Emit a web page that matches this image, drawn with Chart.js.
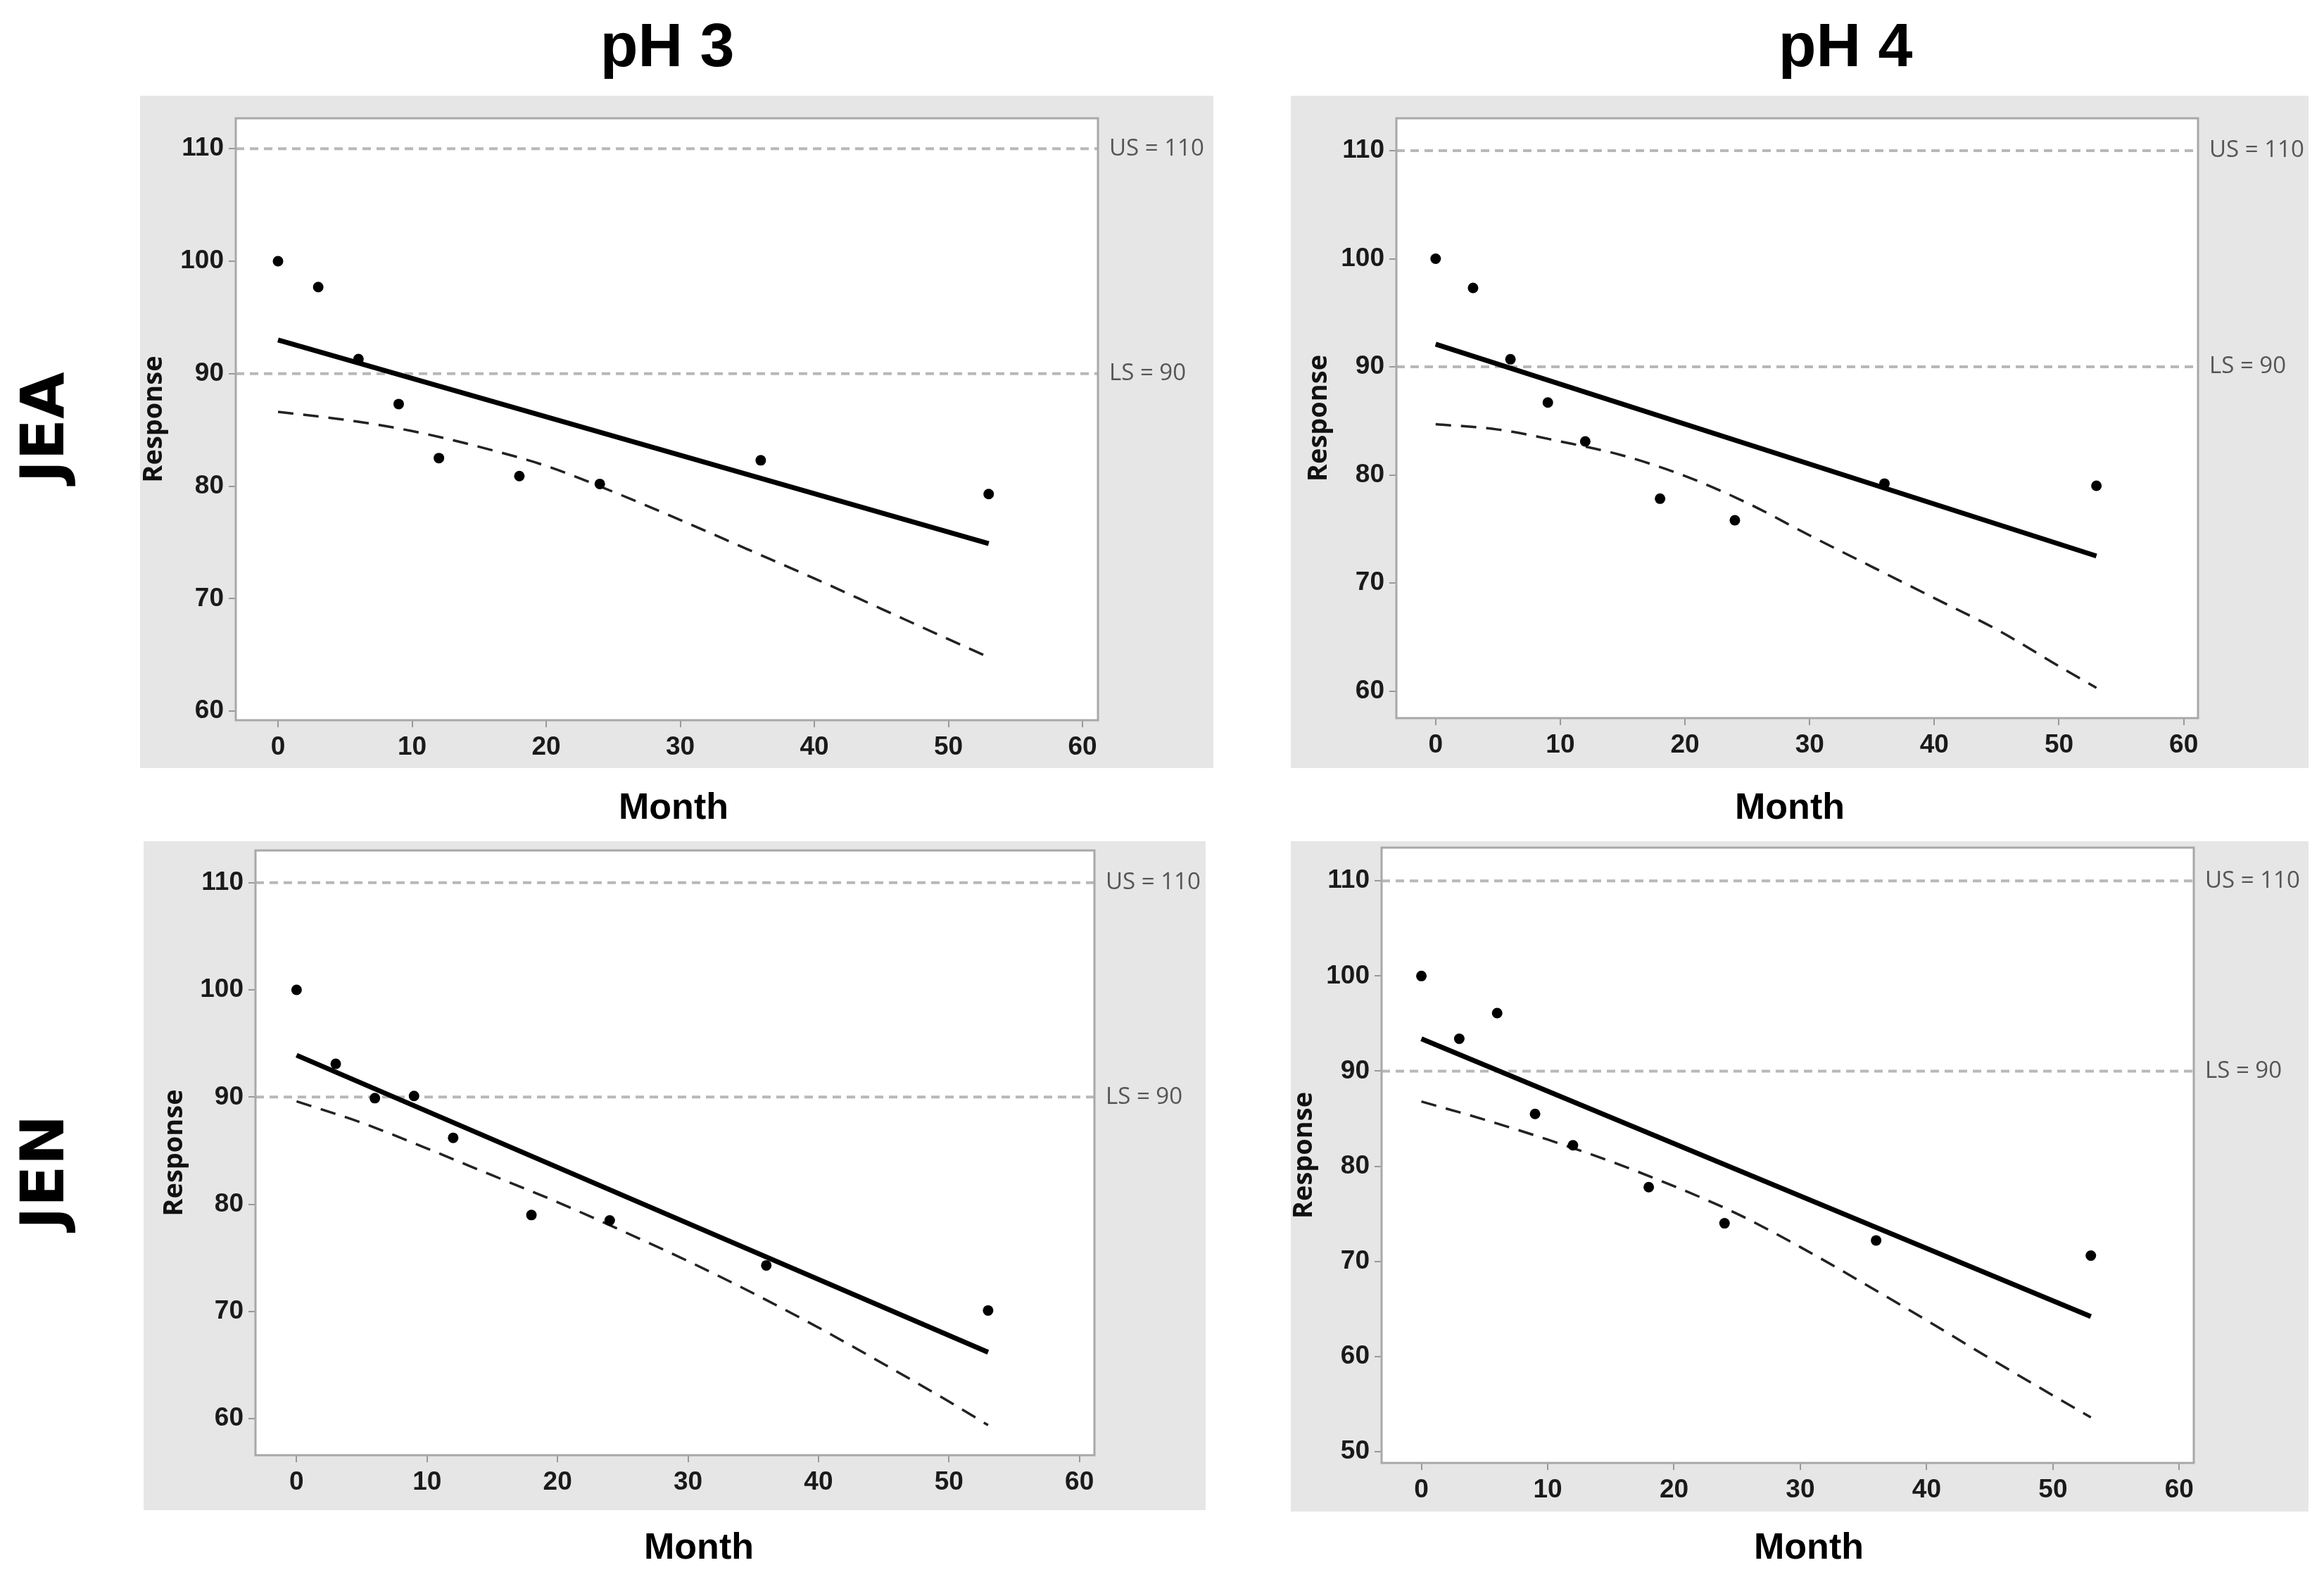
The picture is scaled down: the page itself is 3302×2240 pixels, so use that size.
<!DOCTYPE html>
<html>
<head>
<meta charset="utf-8">
<script src="https://cdn.jsdelivr.net/npm/chart.js@4.4.0/dist/chart.umd.min.js"></script>
<style>
html, body { margin: 0; padding: 0; background: #fff; width: 3302px; height: 2240px; overflow: hidden; }
body { position: relative; font-family: "Liberation Sans", Arial, sans-serif; }
.panel { position: absolute; background: #e6e6e6; }
.plot { position: absolute; }
.lbl { position: absolute; transform: translate(-50%, -50%); font-weight: bold; line-height: 1; white-space: nowrap; color: #000; }
.row { font-family: "DejaVu Sans", sans-serif; font-size: 86px; transform: translate(-50%, -50%) rotate(-90deg); }
.col { font-size: 88px; }
.month { font-size: 52px; }
</style>
</head>
<body>

<div class="lbl col" style="left:948px; top:64px;">pH 3</div>
<div class="lbl col" style="left:2622px; top:64px;">pH 4</div>
<div class="lbl row" style="left:60px; top:607px;">JEA</div>
<div class="lbl row" style="left:60px; top:1665px;">JEN</div>
<div class="lbl month" style="left:957px; top:1145px;">Month</div>
<div class="lbl month" style="left:2543px; top:1145px;">Month</div>
<div class="lbl month" style="left:993px; top:2196px;">Month</div>
<div class="lbl month" style="left:2570px; top:2196px;">Month</div>

<script>
// sampling months of the stability study
var months = [0, 3, 6, 9, 12, 18, 24, 36, 53];
var fitMonths = [0, 53];
var boundMonths = [0, 5, 10, 15, 20, 25, 30, 35, 40, 45, 50, 53];

// JEA pH 3
var jeaPh3Response = [100, 97.7, 91.3, 87.3, 82.5, 80.9, 80.2, 82.3, 79.3];
var jeaPh3Fit = [93.0, 74.9];
var jeaPh3Lower = [86.6, 85.9, 84.9, 83.5, 81.8, 79.5, 77.0, 74.4, 71.8, 69.1, 66.4, 64.8];

// JEA pH 4
var jeaPh4Response = [100, 97.3, 90.7, 86.7, 83.1, 77.8, 75.8, 79.2, 79.0];
var jeaPh4Fit = [92.1, 72.5];
var jeaPh4Lower = [84.7, 84.2, 83.1, 81.8, 79.9, 77.4, 74.4, 71.5, 68.6, 65.7, 62.3, 60.3];

// JEN pH 3
var jenPh3Response = [100, 93.1, 89.9, 90.1, 86.2, 79.0, 78.5, 74.3, 70.1];
var jenPh3Fit = [93.9, 66.2];
var jenPh3Lower = [89.6, 87.6, 85.2, 82.7, 80.2, 77.5, 74.7, 71.7, 68.5, 65.1, 61.6, 59.4];

// JEN pH 4
var jenPh4Response = [100, 93.4, 96.1, 85.5, 82.2, 77.8, 74.0, 72.2, 70.6];
var jenPh4Fit = [93.4, 64.2];
var jenPh4Lower = [86.8, 84.9, 82.8, 80.5, 77.9, 75.0, 71.5, 67.7, 63.8, 59.8, 55.9, 53.6];

// spec limits
var specLimits = [90, 110];
var specNames = ['LS', 'US'];

// ticks
var xTicks = [0, 10, 20, 30, 40, 50, 60];
var yTicks = [60, 70, 80, 90, 100, 110];
var yTicksWide = [50, 60, 70, 80, 90, 100, 110];
var xRange = [-3.15, 61.15];

var panels = [
    { grey: [199, 136, 1724, 1091], frame: [335, 168, 1560, 1023], yRange: [59.2, 112.7], yTicks: yTicks,
      resp: jeaPh3Response, fit: jeaPh3Fit, lower: jeaPh3Lower, titleX: 219 },
    { grey: [1834, 136, 3280, 1091], frame: [1984, 168, 3123, 1020], yRange: [57.5, 113.0], yTicks: yTicks,
      resp: jeaPh4Response, fit: jeaPh4Fit, lower: jeaPh4Lower, titleX: 1874 },
    { grey: [204, 1195, 1713, 2145], frame: [363, 1208, 1555, 2067], yRange: [56.6, 113.0], yTicks: yTicks,
      resp: jenPh3Response, fit: jenPh3Fit, lower: jenPh3Lower, titleX: 248 },
    { grey: [1834, 1195, 3280, 2147], frame: [1963, 1204, 3117, 2078], yRange: [48.8, 113.5], yTicks: yTicksWide,
      resp: jenPh4Response, fit: jenPh4Fit, lower: jenPh4Lower, titleX: 1853 }
];

// canvas starts a bit above the grey box so tick label padding never pushes the plot down
var EXTRA_TOP = 60;

var framePlugin = {
    id: 'frame',
    beforeDraw: function(chart) {
        var a = chart.chartArea, c = chart.ctx;
        c.save();
        c.fillStyle = '#ffffff';
        c.fillRect(a.left, a.top, a.right - a.left, a.bottom - a.top);
        c.restore();
    },
    afterDraw: function(chart) {
        var a = chart.chartArea, c = chart.ctx;
        c.save();
        c.strokeStyle = '#a8a8a8';
        c.lineWidth = 3;
        c.strokeRect(a.left, a.top, a.right - a.left, a.bottom - a.top);
        c.restore();
    }
};

function pairs(xs, ys) {
    return xs.map(function(x, i) { return { x: x, y: ys[i] }; });
}

function tickSetter(list) {
    return function(scale) {
        scale.ticks = list.map(function(v) { return { value: v }; });
    };
}

var tickFont = { family: '"Liberation Sans Narrow", "Liberation Sans", sans-serif', size: 37, weight: 'bold' };

panels.forEach(function(p) {
    var gw = p.grey[2] - p.grey[0], gh = p.grey[3] - p.grey[1];
    var div = document.createElement('div');
    div.className = 'panel';
    div.style.left = p.grey[0] + 'px';
    div.style.top = p.grey[1] + 'px';
    div.style.width = gw + 'px';
    div.style.height = gh + 'px';
    document.body.appendChild(div);

    var canvas = document.createElement('canvas');
    canvas.className = 'plot';
    canvas.width = gw;
    canvas.height = gh + EXTRA_TOP;
    canvas.style.left = p.grey[0] + 'px';
    canvas.style.top = (p.grey[1] - EXTRA_TOP) + 'px';
    document.body.appendChild(canvas);

    var leftW = p.frame[0] - p.grey[0];
    var rightW = p.grey[2] - p.frame[2];
    var bottomH = p.grey[3] - p.frame[3];
    var topPad = p.frame[1] - p.grey[1] + EXTRA_TOP;

    var datasets = [];
    datasets.push({
        data: pairs(months, p.resp), order: 0,
        pointRadius: 7.5, pointBackgroundColor: '#000', pointBorderWidth: 0, showLine: false
    });
    datasets.push({
        data: pairs(fitMonths, p.fit), order: 1, showLine: true,
        borderColor: '#000', borderWidth: 7, pointRadius: 0
    });
    datasets.push({
        data: pairs(boundMonths, p.lower), order: 2, showLine: true,
        borderColor: '#222', borderWidth: 3.5, borderDash: [22, 14], pointRadius: 0,
        cubicInterpolationMode: 'monotone'
    });
    specLimits.forEach(function(s) {
        datasets.push({
            data: [{ x: xRange[0], y: s }, { x: xRange[1], y: s }], order: 3, showLine: true,
            borderColor: '#b8b8b8', borderWidth: 4, borderDash: [12, 8], pointRadius: 0
        });
    });

    new Chart(canvas.getContext('2d'), {
        type: 'scatter',
        data: { datasets: datasets },
        plugins: [framePlugin],
        options: {
            responsive: false,
            animation: false,
            devicePixelRatio: 1,
            layout: { padding: { top: topPad, left: 0, right: 0, bottom: 0 } },
            plugins: { legend: { display: false }, tooltip: { enabled: false } },
            scales: {
                x: {
                    type: 'linear', position: 'bottom', min: xRange[0], max: xRange[1],
                    afterBuildTicks: tickSetter(xTicks),
                    afterFit: function(scale) { scale.height = bottomH; },
                    border: { display: false },
                    grid: { display: true, drawOnChartArea: false, drawTicks: true, tickLength: 10, color: '#999', lineWidth: 2 },
                    ticks: { font: tickFont, color: '#1a1a1a', padding: 7, maxRotation: 0 }
                },
                y: {
                    type: 'linear', position: 'left', min: p.yRange[0], max: p.yRange[1],
                    afterBuildTicks: tickSetter(p.yTicks),
                    afterFit: function(scale) { scale.width = leftW; },
                    border: { display: false },
                    grid: { display: true, drawOnChartArea: false, drawTicks: true, tickLength: 10, color: '#999', lineWidth: 2 },
                    ticks: { font: tickFont, color: '#1a1a1a', padding: 7 },
                    title: {
                        display: true, text: 'Response', color: '#111',
                        font: { family: '"Open Sans", sans-serif', size: 38, weight: 'bold', lineHeight: 1 },
                        padding: { top: p.titleX - p.grey[0] - 19, bottom: 0 }
                    }
                },
                y2: {
                    type: 'linear', position: 'right', min: p.yRange[0], max: p.yRange[1],
                    afterBuildTicks: tickSetter(specLimits),
                    afterFit: function(scale) { scale.width = rightW; },
                    border: { display: false },
                    grid: { display: false, drawTicks: false },
                    ticks: {
                        padding: 16, color: '#555',
                        font: { family: '"Open Sans", sans-serif', size: 33 },
                        callback: function(v) {
                            var i = specLimits.indexOf(v);
                            return specNames[i] + ' = ' + v;
                        }
                    }
                }
            }
        }
    });
});
</script>
</body>
</html>
